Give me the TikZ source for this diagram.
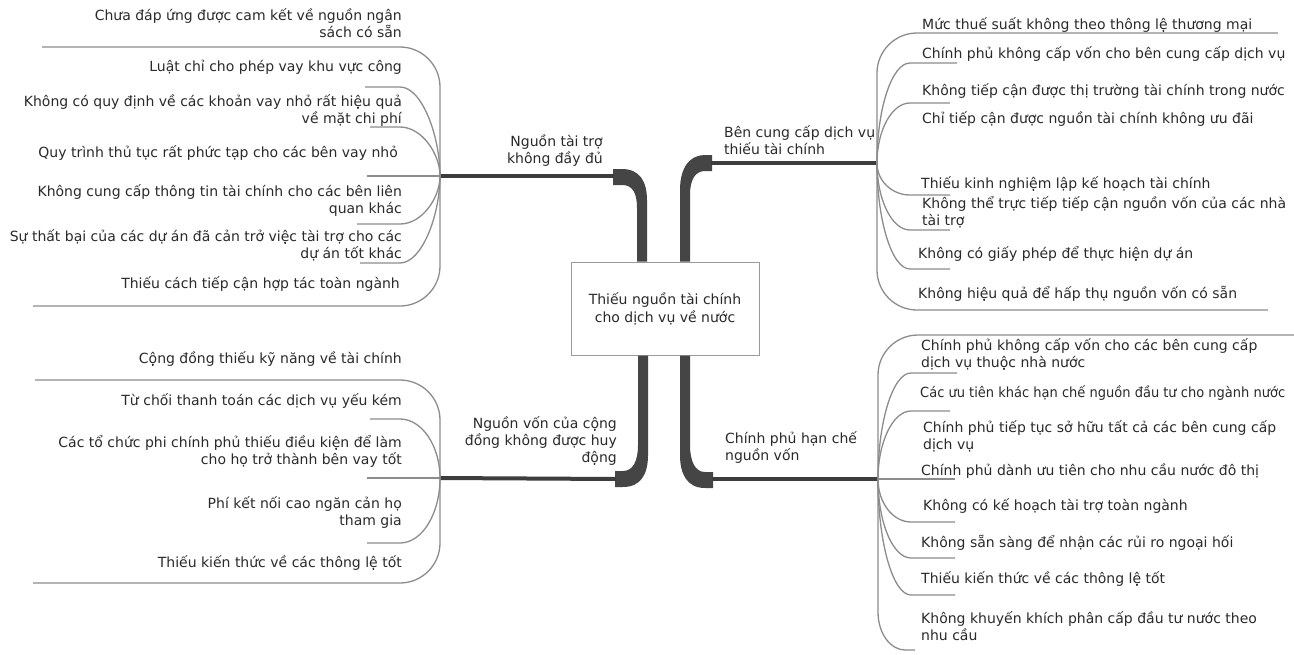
\documentclass[tikz,border=0pt]{standalone}
\usepackage{fontspec}
\usepackage{graphicx}
\setmainfont{DejaVu Sans}
\definecolor{leafgrey}{HTML}{8C8C8C}
\definecolor{branchdark}{HTML}{3D3D3D}
\definecolor{trunkdark}{HTML}{454545}
\definecolor{boxgrey}{HTML}{9A9A9A}
\definecolor{inkgrey}{HTML}{2A2A2A}
% multi-line text blocks whose baseline is the first line
\newcommand\txtR[1]{\vtop{\halign{\hfil##\cr#1\crcr}}}
\newcommand\txtL[1]{\vtop{\halign{##\hfil\cr#1\crcr}}}
\lineskiplimit=-20pt
\lineskip=0pt
\begin{document}
\begin{tikzpicture}[x=1pt,y=-1pt,
  leaf/.style={draw=leafgrey, line width=1.3pt},
  branch/.style={draw=branchdark, line width=4pt},
  trunk/.style={fill=trunkdark, draw=none},
  lbl/.style={inner sep=0pt, text=inkgrey, font=\fontsize{14}{17}\selectfont},
  lblR/.style={lbl, anchor=base east},
  lblL/.style={lbl, anchor=base west}]
\useasboundingbox[fill=white] (0,0) rectangle (1294,654);

% central problem
\node[draw=boxgrey, line width=1pt, minimum width=188pt, minimum height=93pt,
      inner sep=0pt, align=center, text=inkgrey,
      font=\fontsize{14}{18}\selectfont] (center) at (665,308.5)
  {Thiếu nguồn tài chính\\cho dịch vụ về nước};

% junctions of the four clusters
\coordinate (jTL) at (440,176);
\coordinate (jTR) at (877,163);
\coordinate (jBL) at (440,478);
\coordinate (jBR) at (878,479);

% heavy stems leaving the box
\path[trunk] (center.north -| 637,0) -- (637,208) .. controls (637,192) and (632,185) .. (622,185)
  -- (613,185) -- (613,169) -- (622,169) .. controls (640,169) and (647,182) .. (647,200)
  -- (center.north -| 647,0) -- cycle;
\path[trunk] (center.north -| 690,0) -- (690,195) .. controls (690,180) and (695,171) .. (705,171)
  -- (712,171) -- (712,155) -- (705,155) .. controls (690,155) and (680,167) .. (680,190)
  -- (center.north -| 680,0) -- cycle;
\path[trunk] (center.south -| 638,0) -- (638,445) .. controls (638,461) and (633,471) .. (623,471)
  -- (615,471) -- (615,487) -- (623,487) .. controls (641,487) and (648,474) .. (648,455)
  -- (center.south -| 648,0) -- cycle;
\path[trunk] (center.south -| 690,0) -- (690,445) .. controls (690,461) and (695,472) .. (705,472)
  -- (713,472) -- (713,488) -- (705,488) .. controls (687,488) and (680,474) .. (680,455)
  -- (center.south -| 680,0) -- cycle;

% branch lines to the junctions
\draw[branch] (614,176) -- (jTL);
\draw[branch] (711,163) -- (jTR);
\draw[branch] (616,479) -- (jBL);
\draw[branch] (712,479) -- (jBR);

% branch labels
\node[lblR] (bTL) at (603,146) {\txtR{Nguồn tài trợ\cr không đầy đủ}};
\node[lblL] (bTR) at (724,137) {\txtL{Bên cung cấp dịch vụ\cr thiếu tài chính}};
\node[lblR] (bBL) at (617,428) {\txtR{Nguồn vốn của cộng\cr đồng không được huy\cr động}};
\node[lblL] (bBR) at (725,443) {\txtL{Chính phủ hạn chế\cr nguồn vốn}};

% ---------- top-left cluster ----------
\node[lblR] (tl1) at (402,20.7) {\txtR{Chưa đáp ứng được cam kết về nguồn ngân\cr sách có sẵn}};
\node[lblR] (tl2) at (402,71.7) {\txtR{Luật chỉ cho phép vay khu vực công}};
\node[lblR] (tl3) at (402,106) {\txtR{Không có quy định về các khoản vay nhỏ rất hiệu quả\cr về mặt chi phí}};
\node[lblR] (tl4) at (398,157) {\txtR{Quy trình thủ tục rất phức tạp cho các bên vay nhỏ}};
\node[lblR] (tl5) at (402,196) {\txtR{Không cung cấp thông tin tài chính cho các bên liên\cr quan khác}};
\node[lblR] (tl6) at (402,241) {\txtR{Sự thất bại của các dự án đã cản trở việc tài trợ cho các\cr dự án tốt khác}};
\node[lblR] (tl7) at (400,288) {\txtR{Thiếu cách tiếp cận hợp tác toàn ngành}};

\draw[leaf] (42,47) -- (400,47) .. controls (422,47) and (440,65) .. (440,87) -- (jTL);
\draw[leaf] (365,87) -- (400,87) .. controls (422,87) and (440,136) .. (jTL);
\draw[leaf] (370,127) -- (400,127) .. controls (422,127) and (440,154) .. (jTL);
\draw[leaf] (367,176) -- (jTL);
\draw[leaf] (357,224) -- (400,224) .. controls (422,224) and (440,198) .. (jTL);
\draw[leaf] (360,263) -- (400,263) .. controls (422,263) and (440,215) .. (jTL);
\draw[leaf] (33,306) -- (400,306) .. controls (422,306) and (440,288) .. (440,266) -- (jTL);

% ---------- bottom-left cluster ----------
\node[lblR] (bl1) at (402,363) {\txtR{Cộng đồng thiếu kỹ năng về tài chính}};
\node[lblR] (bl2) at (402,405) {\txtR{Từ chối thanh toán các dịch vụ yếu kém}};
\node[lblR] (bl3) at (402,447) {\txtR{Các tổ chức phi chính phủ thiếu điều kiện để làm\cr cho họ trở thành bên vay tốt}};
\node[lblR] (bl4) at (402,508) {\txtR{Phí kết nối cao ngăn cản họ\cr tham gia}};
\node[lblR] (bl5) at (402,567) {\txtR{Thiếu kiến thức về các thông lệ tốt}};

\draw[leaf] (35,380) -- (400,380) .. controls (422,380) and (440,398) .. (440,420) -- (jBL);
\draw[leaf] (370,419) -- (400,419) .. controls (422,419) and (440,446) .. (jBL);
\draw[leaf] (367,478) -- (jBL);
\draw[leaf] (367,543) -- (400,543) .. controls (422,543) and (440,514) .. (jBL);
\draw[leaf] (33,583) -- (400,583) .. controls (422,583) and (440,565) .. (440,543) -- (jBL);

% ---------- top-right cluster ----------
\node[lblL] (tr1) at (922,29) {\txtL{Mức thuế suất không theo thông lệ thương mại}};
\node[lblL] (tr2) at (922,58) {\txtL{Chính phủ không cấp vốn cho bên cung cấp dịch vụ}};
\node[lblL] (tr3) at (922,95) {\txtL{Không tiếp cận được thị trường tài chính trong nước}};
\node[lblL] (tr4) at (922,123) {\txtL{Chỉ tiếp cận được nguồn tài chính không ưu đãi}};
\node[lblL] (tr5) at (921,188) {\txtL{Thiếu kinh nghiệm lập kế hoạch tài chính}};
\node[lblL] (tr6) at (922,208) {\txtL{Không thể trực tiếp tiếp cận nguồn vốn của các nhà\cr tài trợ}};
\node[lblL] (tr7) at (918,258) {\txtL{Không có giấy phép để thực hiện dự án}};
\node[lblL] (tr8) at (918,298) {\txtL{Không hiệu quả để hấp thụ nguồn vốn có sẵn}};

\draw[leaf] (jTR) -- (877,73) .. controls (877,51) and (895,33) .. (917,33) -- (1278,33);
\draw[leaf] (jTR) .. controls (877,108) and (892,63) .. (910,63) -- (957,63);
\draw[leaf] (jTR) .. controls (877,130) and (892,103) .. (910,103) -- (950,103);
\draw[leaf] (jTR) .. controls (877,181) and (892,195) .. (910,195) -- (950,195);
\draw[leaf] (jTR) .. controls (877,200) and (892,230) .. (910,230) -- (950,230);
\draw[leaf] (jTR) .. controls (877,221) and (892,269) .. (910,269) -- (950,269);
\draw[leaf] (jTR) -- (877,270) .. controls (877,292) and (895,310) .. (917,310) -- (1268,310);

% ---------- bottom-right cluster ----------
\node[lblL] (br1) at (921,350) {\txtL{Chính phủ không cấp vốn cho các bên cung cấp\cr dịch vụ thuộc nhà nước}};
\node[lblL] (br2) at (920,397) {\scalebox{0.93}[1]{Các ưu tiên khác hạn chế nguồn đầu tư cho ngành nước}};
\node[lblL] (br3) at (923,432) {\txtL{Chính phủ tiếp tục sở hữu tất cả các bên cung cấp\cr dịch vụ}};
\node[lblL] (br4) at (921,475) {\txtL{Chính phủ dành ưu tiên cho nhu cầu nước đô thị}};
\node[lblL] (br5) at (923,510) {\txtL{Không có kế hoạch tài trợ toàn ngành}};
\node[lblL] (br6) at (921,547) {\txtL{Không sẵn sàng để nhận các rủi ro ngoại hối}};
\node[lblL] (br7) at (921,583) {\txtL{Thiếu kiến thức về các thông lệ tốt}};
\node[lblL] (br8) at (921,623) {\txtL{Không khuyến khích phân cấp đầu tư nước theo\cr nhu cầu}};

\draw[leaf] (jBR) -- (878,375) .. controls (878,353) and (896,335) .. (918,335) -- (1294,335);
\draw[leaf] (jBR) .. controls (878,421) and (893,373) .. (911,373) -- (957,373);
\draw[leaf] (jBR) .. controls (878,442) and (893,411) .. (911,411) -- (950,411);
\draw[leaf] (jBR) -- (955,479);
\draw[leaf] (jBR) .. controls (878,503) and (893,522) .. (911,522) -- (955,522);
\draw[leaf] (jBR) .. controls (878,523) and (893,558) .. (911,558) -- (955,558);
\draw[leaf] (jBR) .. controls (878,543) and (893,595) .. (911,595) -- (955,595);
\draw[leaf] (jBR) -- (878,612) .. controls (878,634) and (891,650) .. (905,650) -- (915,650);
\end{tikzpicture}
\end{document}
